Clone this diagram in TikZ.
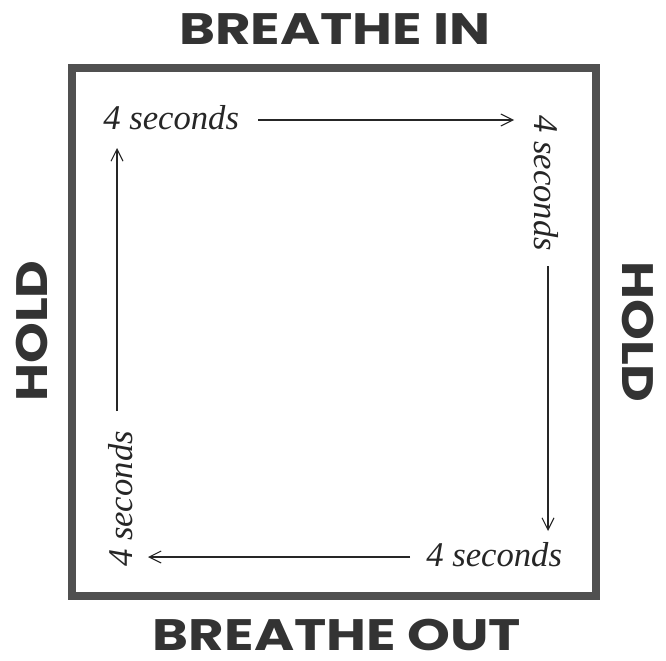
\documentclass[tikz,border=0pt]{standalone}
\usepackage{fontspec}
\newfontfamily\headfont{Poppins}
\newfontfamily\secfont{Liberation Serif}
\usetikzlibrary{arrows.meta}
\definecolor{framegray}{HTML}{505050}
\definecolor{inkgray}{HTML}{333333}
\newcommand{\widehead}[2][1.18]{\scalebox{#1}[1]{#2}}
\tikzset{
  head/.style={font=\headfont\bfseries\fontsize{33}{38}\selectfont, text=inkgray, inner sep=0pt},
  secs/.style={font=\secfont\itshape\fontsize{26}{30}\selectfont, text=black!85, inner sep=0pt},
  flow/.style={line width=0.9pt, black!85, -{Straight Barb[length=9pt,width=9pt,line width=0.8pt]}},
  frame/.style={line width=6pt, framegray}
}
\begin{document}
\begin{tikzpicture}[x=0.75pt,y=-0.75pt]
\useasboundingbox[fill=white] (0,0) rectangle (666,660);
\draw[frame] (72,68) rectangle (596,596);
\node[head] (bin) at (335,29) {\widehead[1.24]{BREATHE IN}};
\node[head] (bout) at (337,635) {\widehead[1.24]{BREATHE OUT}};
\node[head, rotate=90] (holdl) at (32,331) {\widehead{HOLD}};
\node[head, rotate=-90] (holdr) at (638,332) {\widehead{HOLD}};
\node[secs, anchor=base west] (tl) at (103,129) {4 seconds};
\node[secs, rotate=-90] (tr) at (546,183) {4 seconds};
\node[secs, anchor=base west] (br) at (426,566) {4 seconds};
\node[secs, rotate=90] (bl) at (121,499) {4 seconds};
\coordinate (a1s) at (258,120);
\coordinate (a1e) at (514,120);
\coordinate (a2s) at (548,266);
\coordinate (a2e) at (548,531);
\coordinate (a3s) at (410,557);
\coordinate (a3e) at (148,557);
\coordinate (a4s) at (117,411);
\coordinate (a4e) at (117,148);
\draw[flow] (a1s) -- (a1e);
\draw[flow] (a2s) -- (a2e);
\draw[flow] (a3s) -- (a3e);
\draw[flow] (a4s) -- (a4e);
\end{tikzpicture}
\end{document}
